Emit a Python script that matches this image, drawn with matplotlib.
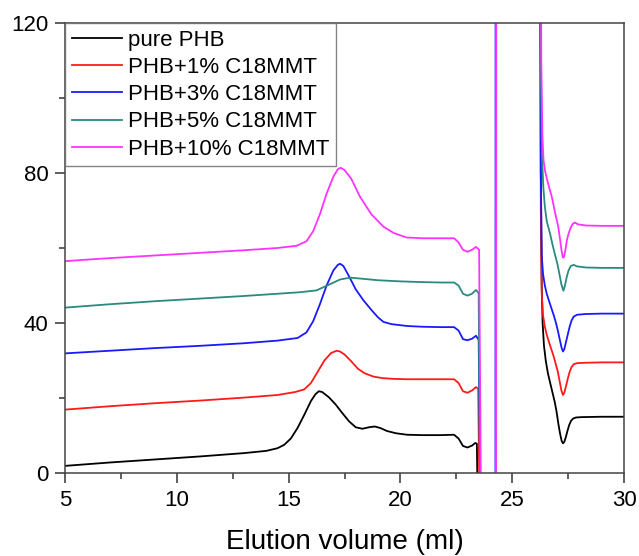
import matplotlib
matplotlib.use('Agg')
import matplotlib.pyplot as plt
from matplotlib.ticker import MultipleLocator

plt.rcParams['font.family'] = ['Liberation Sans', 'DejaVu Sans']

labels = ['pure PHB', 'PHB+1% C18MMT', 'PHB+3% C18MMT', 'PHB+5% C18MMT', 'PHB+10% C18MMT']
colors = ['#000000', '#ff1a1a', '#1a1aff', '#2a8a80', '#ff33ff']

# pure PHB
x_phb = [5, 7, 9, 11, 13, 14, 14.5, 14.8, 15.1, 15.4, 15.7, 16.0, 16.2, 16.35, 16.5, 16.8,
         17.1, 17.4, 17.7, 18.0, 18.3, 18.6, 18.85, 19.1, 19.4, 19.8, 20.3, 21, 21.8, 22.4,
         22.6, 22.8, 23.0, 23.2, 23.35, 23.42, 23.48, 24.27, 24.28,
         26.24, 26.28, 26.32, 26.36, 26.42, 26.5, 26.6, 26.7, 26.8, 26.9, 26.98, 27.06,
         27.14, 27.21, 27.27, 27.33, 27.4, 27.47, 27.55, 27.63, 27.72, 27.85, 28.1, 29, 30]
y_phb = [1.9, 2.8, 3.6, 4.4, 5.3, 5.9, 6.6, 7.5, 9.2, 12, 15.5, 19.2, 21.0, 21.8, 21.6, 20.2,
         18.3, 16.0, 13.8, 12.2, 11.8, 12.2, 12.4, 12.0, 11.2, 10.6, 10.2, 10.1, 10.1, 10.2,
         9.2, 7.2, 6.8, 7.3, 8.0, 7.8, -20, -20, 200,
         200, 80, 50, 40, 34, 30, 26.5, 24, 21.5, 19, 16.5, 13.3,
         10.5, 8.6, 7.9, 8.3, 9.6, 11.2, 12.8, 13.9, 14.5, 14.8, 14.9, 15, 15]

# PHB + 1% C18MMT
x_1 = [5, 7, 9, 11, 13, 14.5, 15.3, 15.7, 16.0, 16.3, 16.6, 16.9, 17.15, 17.3, 17.5, 17.8,
       18.1, 18.4, 18.8, 19.2, 19.7, 20.3, 21, 21.8, 22.4, 22.6, 22.8, 23.0, 23.2, 23.38,
       23.48, 23.56, 24.27, 24.28,
       26.24, 26.28, 26.32, 26.38, 26.46, 26.54, 26.64, 26.75, 26.86, 26.95, 27.04, 27.12,
       27.2, 27.27, 27.33, 27.4, 27.48, 27.56, 27.65, 27.75, 27.9, 28.3, 29, 30]
y_1 = [16.9, 17.8, 18.6, 19.3, 20.1, 20.8, 21.6, 22.3, 24, 27, 30, 32, 32.6, 32.4, 31.6, 29.8,
       27.8, 26.6, 25.7, 25.3, 25.1, 25.0, 25.0, 25.0, 25.0, 24, 21.8, 21.4, 22.0, 22.9,
       22.5, -20, -20, 200,
       200, 70, 48, 42, 39, 37, 35, 33, 31, 29, 27, 24.5,
       22, 20.8, 21.4, 23, 25, 26.8, 28.2, 29, 29.3, 29.4, 29.5, 29.5]

# PHB + 3% C18MMT
x_3 = [5, 7, 9, 11, 13, 14.5, 15.4, 15.8, 16.1, 16.4, 16.7, 17.0, 17.2, 17.3, 17.45, 17.7,
       18.0, 18.34, 18.7, 19.0, 19.24, 19.6, 20.3, 21, 21.8, 22.4, 22.6, 22.8, 23.0, 23.2,
       23.38, 23.5, 23.6, 24.25, 24.26,
       26.24, 26.28, 26.32, 26.38, 26.46, 26.54, 26.64, 26.75, 26.86, 26.95, 27.04, 27.12,
       27.2, 27.27, 27.33, 27.4, 27.48, 27.56, 27.65, 27.75, 27.9, 28.3, 29, 30]
y_3 = [31.9, 32.6, 33.3, 33.9, 34.6, 35.3, 36.0, 37.5, 40.5, 45, 50, 54, 55.5, 55.8, 55.2,
       52.5, 49, 46.1, 43.5, 41.5, 40.3, 39.7, 39.2, 39.0, 38.9, 38.9, 38, 35.7, 35.4, 35.8,
       36.6, 35.5, -20, -20, 200,
       200, 80, 58, 53, 50, 47.9, 46, 44, 42, 40.2, 38, 35.8,
       33.6, 32.4, 33, 34.8, 36.8, 38.8, 40.6, 41.7, 42.2, 42.4, 42.5, 42.5]

# PHB + 5% C18MMT
x_5 = [5, 7, 9, 11, 13, 14.5, 15.5, 16.25, 16.8, 17.3, 17.75, 18.3, 19.0, 20.0, 21, 21.8,
       22.4, 22.6, 22.8, 23.0, 23.2, 23.38, 23.5, 23.58, 24.27, 24.28,
       26.24, 26.28, 26.33, 26.39, 26.46, 26.55, 26.69, 26.8, 26.91, 27.02, 27.13, 27.2,
       27.29, 27.36, 27.44, 27.52, 27.62, 27.75, 27.9, 28.3, 29, 30]
y_5 = [44.1, 45.0, 45.8, 46.5, 47.2, 47.8, 48.2, 48.7, 50.2, 51.6, 52.1, 51.8, 51.4, 51.1,
       50.9, 50.8, 50.8, 50, 47.8, 47.3, 47.8, 48.8, 48.0, -20, -20, 200,
       200, 110, 85, 76.4, 71, 67, 63.9, 61, 58.3, 55.8, 52.5, 50.3,
       48.6, 50, 52.3, 54, 55.2, 55.5, 55.1, 54.8, 54.7, 54.7]

# PHB + 10% C18MMT
x_10 = [5, 7, 9, 11, 13, 14.5, 15.36, 15.8, 16.1, 16.4, 16.7, 17.0, 17.2, 17.33, 17.5, 17.8,
        18.19, 18.7, 19.24, 19.7, 20.28, 21, 21.8, 22.4, 22.6, 22.8, 23.0, 23.2, 23.38, 23.52,
        23.62, 24.28, 24.29,
        26.26, 26.3, 26.35, 26.4, 26.47, 26.55, 26.66, 26.77, 26.87, 26.97, 27.06, 27.14,
        27.21, 27.27, 27.32, 27.38, 27.45, 27.52, 27.6, 27.7, 27.8, 27.95, 28.3, 29, 30]
y_10 = [56.5, 57.3, 58.0, 58.7, 59.4, 60.0, 60.6, 61.8, 64.5, 69, 74.5, 79, 81, 81.4, 80.8,
        78.5, 73.7, 69, 65.7, 64, 62.8, 62.6, 62.6, 62.6, 61.5, 59.5, 59, 59.5, 60.3, 59.5,
        -20, -20, 200,
        200, 110, 90, 83.5, 80.5, 78.5, 76, 73.7, 70.8, 68, 65.7, 62.3,
        59.2, 57.4, 57.6, 59.5, 62.2, 63.8, 65.2, 66.4, 66.8, 66.3, 66.0, 65.9, 65.9]

xs = [x_phb, x_1, x_3, x_5, x_10]
ys = [y_phb, y_1, y_3, y_5, y_10]

fig = plt.figure(figsize=(6.39, 5.56), dpi=100)
ax = fig.add_axes([65 / 639, 1 - 473 / 556, 559 / 639, 450 / 556])

for x, y, c, lab in zip(xs, ys, colors, labels):
    ax.plot(x, y, color=c, lw=1.3, label=lab)

ax.set_xlim(5, 30)
ax.set_ylim(0, 120)
ax.xaxis.set_major_locator(MultipleLocator(5))
ax.xaxis.set_minor_locator(MultipleLocator(2.5))
ax.yaxis.set_major_locator(MultipleLocator(40))
ax.yaxis.set_minor_locator(MultipleLocator(20))
ax.tick_params(which='major', direction='out', length=7, width=1.1, labelsize=16, pad=5,
               color='#333333')
ax.tick_params(which='minor', direction='out', length=4, width=1.1, color='#333333')
for s in ax.spines.values():
    s.set_color('#444444')
    s.set_linewidth(1.1)

ax.set_xlabel('Elution volume (ml)', fontsize=20, labelpad=13)

leg = ax.legend(loc='upper left', fontsize=16, frameon=True, fancybox=False,
                borderaxespad=0, borderpad=0.3, labelspacing=0.28,
                handlelength=2.25, handletextpad=0.3)
leg.get_frame().set_edgecolor('#666666')
leg.get_frame().set_linewidth(1.0)

fig.savefig('out.png', dpi=100)
